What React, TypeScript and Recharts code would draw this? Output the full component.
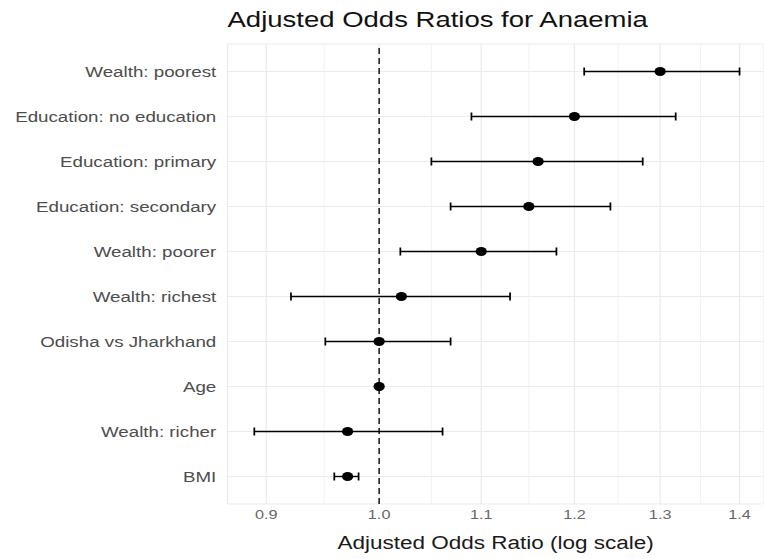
import { ScatterChart, Scatter, XAxis, YAxis, CartesianGrid, ReferenceLine, ErrorBar } from 'recharts'

// Forest plot: adjusted odds ratios with 95% CI on a log x axis.
// The source image is stretched horizontally, so the chart is drawn narrower and scaled 1.25x in x.
const labels = [
  'Wealth: poorest',
  'Education: no education',
  'Education: primary',
  'Education: secondary',
  'Wealth: poorer',
  'Wealth: richest',
  'Odisha vs Jharkhand',
  'Age',
  'Wealth: richer',
  'BMI',
]
const oddsRatio = [1.3, 1.2, 1.16, 1.15, 1.1, 1.021, 1.0, 1.0, 0.971, 0.971]
const ciLow = [1.211, 1.09, 1.05, 1.069, 1.02, 0.921, 0.951, 0.999, 0.89, 0.959]
const ciHigh = [1.4, 1.319, 1.279, 1.241, 1.18, 1.13, 1.069, 1.001, 1.061, 0.981]

const xTicks = [0.9, 1.0, 1.1, 1.2, 1.3, 1.4]
const xMinor = [0.95, 1.05, 1.15, 1.25, 1.35]

const data = labels.map((name, i) => ({
  name,
  or: oddsRatio[i],
  err: [oddsRatio[i] - ciLow[i], ciHigh[i] - oddsRatio[i]],
}))

const font = '"Liberation Sans", Arial, sans-serif'
const W = 611
const H = 559

export default function App() {
  return (
    <div style={{ position: 'absolute', left: 0, top: 0, width: 764, height: H, background: '#fff', overflow: 'hidden' }}>
      <div style={{ position: 'relative', width: W, height: H, transform: 'scaleX(1.25)', transformOrigin: '0 0', fontFamily: font }}>
        <div style={{ position: 'absolute', top: 7, left: 182, fontSize: 22, lineHeight: '26px', color: '#111', whiteSpace: 'nowrap' }}>
          Adjusted Odds Ratios for Anaemia
        </div>
        <ScatterChart width={W} height={H} margin={{ top: 44, right: 0, bottom: 0, left: 0 }}>
          <CartesianGrid stroke="#ebebeb" strokeWidth={1} />
          {xMinor.map(v => (
            <ReferenceLine key={v} x={v} stroke="#f0f0f0" strokeWidth={0.8} />
          ))}
          <XAxis
            type="number"
            dataKey="or"
            scale="log"
            domain={[0.868, 1.432]}
            allowDataOverflow
            ticks={xTicks}
            tickFormatter={(v: number) => v.toFixed(1)}
            axisLine={false}
            tickLine={false}
            tickMargin={0}
            height={55}
            tick={{ fill: '#666', fontSize: 13, fontFamily: font }}
            label={{ value: 'Adjusted Odds Ratio (log scale)', position: 'insideBottom', offset: 10, fill: '#1a1a1a', fontSize: 18, fontFamily: font }}
          />
          <YAxis
            type="category"
            dataKey="name"
            reversed
            width={182}
            padding={{ top: 5, bottom: 5 }}
            axisLine={false}
            tickLine={false}
            tickMargin={3}
            tick={{ fill: '#4d4d4d', fontSize: 15, fontFamily: font }}
          />
          <ReferenceLine x={1} stroke="#000" strokeWidth={1.1} strokeDasharray="6 4" />
          <Scatter data={data} fill="#000" isAnimationActive={false}>
            <ErrorBar dataKey="err" direction="x" width={4} stroke="#000" strokeWidth={1.4} />
          </Scatter>
        </ScatterChart>
      </div>
    </div>
  )
}
